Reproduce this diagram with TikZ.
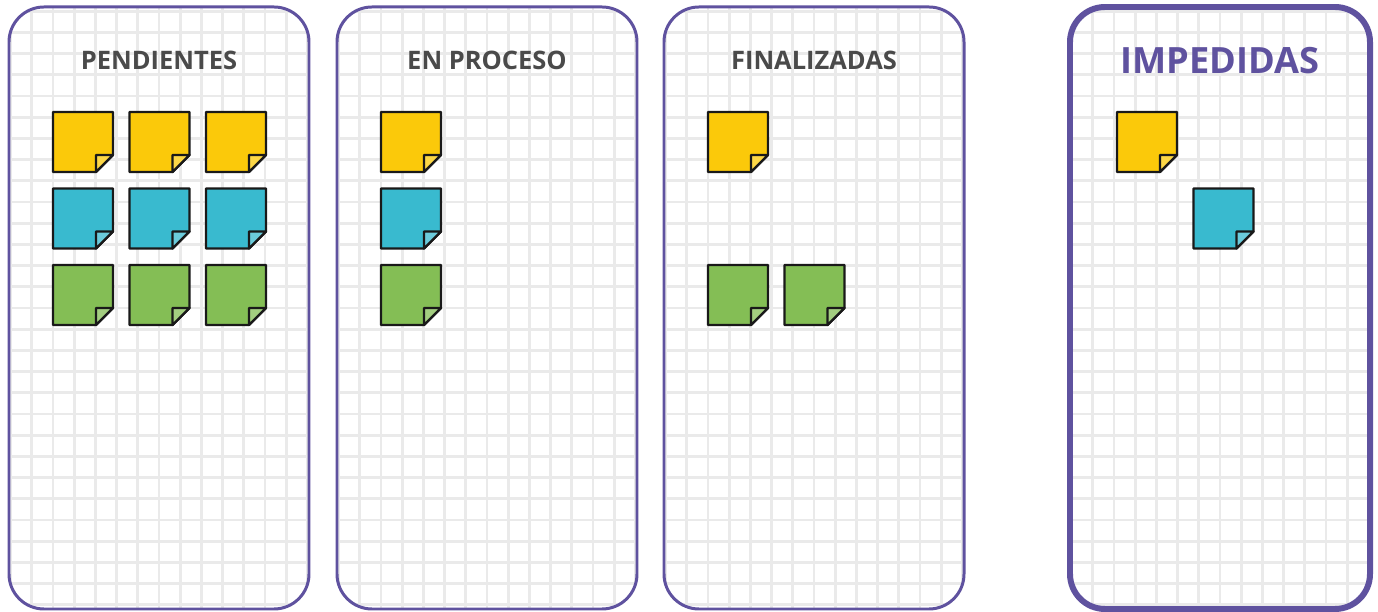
\documentclass[tikz,border=0pt]{standalone}
\usepackage{fontspec}
\setsansfont{Open Sans}
\usepackage{xcolor}
\usepackage{tikz}
\usetikzlibrary{positioning}

\definecolor{morado}{HTML}{5F529F}
\definecolor{amarillo}{HTML}{FBC90A}
\definecolor{celeste}{HTML}{39BACF}
\definecolor{verde}{HTML}{84BE55}
\definecolor{grisTexto}{HTML}{4A4A4A}
\definecolor{grisCuadro}{HTML}{EAEAEA}

\newcommand{\pliegue}{0.34cm}

\begin{document}
\begin{tikzpicture}[
            columna/.style   ={rectangle, rounded corners=0.7cm, draw=morado, fill=white, line width=1.7pt,
                               minimum width=6cm, minimum height=12.04cm, outer sep=0pt,
                               path picture={\draw[cuadricula, xshift=0.212cm, yshift=0.212cm]
                                   ([shift={(-1,-1)}]path picture bounding box.south west) grid
                                   ([shift={(1,1)}]path picture bounding box.north east);}},
            bloqueada/.style ={columna, line width=3.4pt},
            cuadricula/.style={draw=grisCuadro, line width=1.6pt, step=0.424cm},
            titulo/.style    ={font=\sffamily\bfseries\fontsize{14.5}{14.5}\selectfont, text=grisTexto, inner sep=0pt},
            alerta/.style    ={titulo, font=\sffamily\bfseries\fontsize{20.6}{20.6}\selectfont, text=morado},
            bordenota/.style ={draw=black!90, line width=1.3pt, line join=round},
            nota/.style      ={rectangle, minimum size=1.2cm, inner sep=0pt, outer sep=0pt,
                               append after command={\pgfextra{
                                   \draw[bordenota, fill=#1] (\tikzlastnode.north west) -- (\tikzlastnode.north east)
                                       -- ([yshift=\pliegue]\tikzlastnode.south east)
                                       -- ([xshift=-\pliegue]\tikzlastnode.south east)
                                       -- (\tikzlastnode.south west) -- cycle;
                                   \draw[bordenota, fill=#1!75!white] ([xshift=-\pliegue]\tikzlastnode.south east)
                                       |- ([yshift=\pliegue]\tikzlastnode.south east) -- cycle;}}},
            node distance=0.33cm
        ]
            \useasboundingbox (0,0) rectangle (27.56,12.24);

            % --- Columnas del tablero ---
            \node[columna]                      (pend) at (3.18,6.08) {};
            \node[columna,   right=0.56cm of pend] (proc) {};
            \node[columna,   right=0.54cm of proc] (fin)  {};
            \node[bloqueada, right=2.12cm of fin]  (imp)  {};

            % --- Titulos ---
            \node[titulo] (tpend) at ([yshift=-1.07cm]pend.north) {PENDIENTES};
            \node[titulo] (tproc) at ([yshift=-1.07cm]proc.north) {EN PROCESO};
            \node[titulo] (tfin)  at ([yshift=-1.07cm]fin.north)  {FINALIZADAS};
            \node[alerta] (timp)  at ([yshift=-1.07cm]imp.north)  {IMPEDIDAS};

            % --- Notas: pendientes ---
            \node[nota=amarillo] (pend11) at ([xshift=1.48cm, yshift=-2.7cm]pend.north west) {};
            \node[nota=amarillo, right=of pend11] (pend12) {};
            \node[nota=amarillo, right=of pend12] (pend13) {};
            \node[nota=celeste,  below=of pend11] (pend21) {};
            \node[nota=celeste,  right=of pend21] (pend22) {};
            \node[nota=celeste,  right=of pend22] (pend23) {};
            \node[nota=verde,    below=of pend21] (pend31) {};
            \node[nota=verde,    right=of pend31] (pend32) {};
            \node[nota=verde,    right=of pend32] (pend33) {};

            % --- Notas: en proceso ---
            \node[nota=amarillo] (proc1) at ([xshift=1.48cm, yshift=-2.7cm]proc.north west) {};
            \node[nota=celeste,  below=of proc1] (proc2) {};
            \node[nota=verde,    below=of proc2] (proc3) {};

            % --- Notas: finalizadas ---
            \node[nota=amarillo] (fin1) at ([xshift=1.48cm, yshift=-2.7cm]fin.north west) {};
            \node[nota=verde,    below=1.86cm of fin1] (fin2) {};
            \node[nota=verde,    right=of fin2]        (fin3) {};

            % --- Notas: impedidas ---
            \node[nota=amarillo] (imp1) at ([xshift=1.54cm, yshift=-2.7cm]imp.north west) {};
            \node[nota=celeste,  below right=0.33cm and 0.33cm of imp1] (imp2) {};

\end{tikzpicture}
\end{document}
